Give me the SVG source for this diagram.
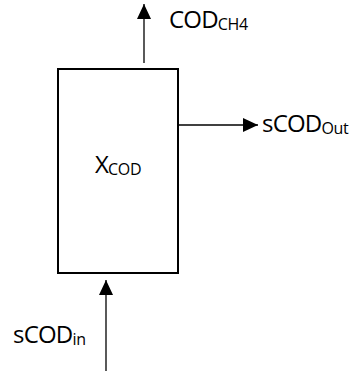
<svg xmlns="http://www.w3.org/2000/svg" width="354" height="371" viewBox="0 0 354 371">
  <style>
    .lbl { font-family: "Open Sans", "Noto Sans", "Liberation Sans", sans-serif; font-size: 24px; letter-spacing: -0.8px; fill: #000; }
    .sub { font-size: 16px; letter-spacing: -0.3px; }
    .box { fill: #fff; stroke: #000; stroke-width: 2; }
    .conn { stroke: #000; stroke-width: 1.3; fill: none; marker-end: url(#arrow); }
  </style>
  <defs>
    <marker id="arrow" viewBox="0 0 15 14" refX="15" refY="7" markerWidth="15" markerHeight="14" markerUnits="userSpaceOnUse" orient="auto">
      <path d="M0,0 L15,7 L0,14 Z" fill="#000"/>
    </marker>
  </defs>
  <g id="reactor">
    <rect class="box" x="58" y="69" width="120" height="204"/>
    <text class="lbl" x="95" y="173">X<tspan class="sub" dy="1.5">COD</tspan></text>
  </g>
  <g id="connectors">
    <line class="conn" x1="144" y1="63" x2="144" y2="4"/>
    <line class="conn" x1="178" y1="125" x2="258" y2="125"/>
    <line class="conn" x1="106" y1="371" x2="106" y2="280"/>
  </g>
  <g id="label-ch4">
    <text class="lbl" x="169" y="28">COD<tspan class="sub" dy="1.5">CH4</tspan></text>
  </g>
  <g id="label-out">
    <text class="lbl" x="262" y="132">sCOD<tspan class="sub" dy="1.5">Out</tspan></text>
  </g>
  <g id="label-in">
    <text class="lbl" x="13" y="343">sCOD<tspan class="sub" dy="1.5">in</tspan></text>
  </g>
</svg>
